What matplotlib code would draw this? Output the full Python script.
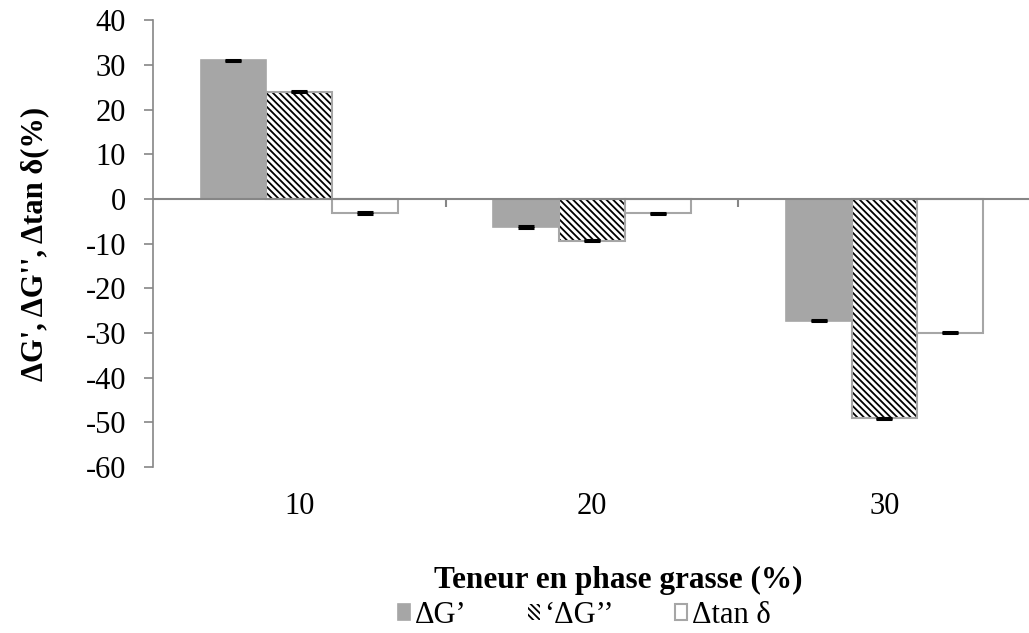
import numpy as np
import matplotlib.pyplot as plt

plt.rcParams['font.family'] = ['Liberation Serif', 'DejaVu Serif']
plt.rcParams['axes.unicode_minus'] = False
plt.rcParams['hatch.linewidth'] = 1.3

# ============ data ============
categories = ['10', '20', '30']
dG1 = [31.0, -6.3, -27.2]
dG2 = [24.0, -9.3, -49.1]
dtan = [-3.1, -3.2, -29.9]
err = [0.15, 0.15, 0.15]
labels = ['\u0394G\u2019', '\u2018\u0394G\u2019\u2019', '\u0394tan \u03b4']

gray = '#a6a6a6'
axis_gray = '#868686'
fs = 22

fig = plt.figure(figsize=(10.29, 6.33), dpi=100)
ax = fig.add_axes([0.1487, 0.262, 0.853, 0.706])

x = np.arange(len(categories))
w = 0.225

b1 = ax.bar(x - w, dG1, w, color=gray, edgecolor=gray, linewidth=1.2, label=labels[0])
b2 = ax.bar(x, dG2, w, color='white', edgecolor='black', hatch='\\\\\\\\\\',
            linewidth=0, label=labels[1])
ax.bar(x, dG2, w, color='none', edgecolor=gray, linewidth=1.5)
b3 = ax.bar(x + w, dtan, w, color='white', edgecolor=gray, linewidth=1.5, label=labels[2])

for off, vals in [(-w, dG1), (0, dG2), (w, dtan)]:
    ax.errorbar(x + off, vals, yerr=err, fmt='none', ecolor='black',
                capsize=6, capthick=2.2, elinewidth=1)

ax.axhline(0, color=axis_gray, linewidth=1.5, zorder=3)
ax.vlines([0.5, 1.5], -1.8, 0, color=axis_gray, linewidth=1.5, zorder=3)

ax.set_xlim(-0.5, 2.5)
ax.set_ylim(-60, 40)
ax.set_yticks(np.arange(-60, 41, 10))
ax.set_xticks(x)
ax.set_xticklabels(categories)

for s in ['top', 'right', 'bottom']:
    ax.spines[s].set_visible(False)
ax.spines['left'].set_color(axis_gray)
ax.spines['left'].set_linewidth(1.2)
ax.tick_params(axis='y', direction='out', length=6.5, color=axis_gray, width=1.2,
               labelsize=fs, pad=13)
ax.tick_params(axis='x', length=0, labelsize=fs, pad=18)

ax.set_ylabel('\u0394G\', \u0394G\'\', \u0394tan \u03b4(%)', fontsize=fs,
              fontweight='bold', labelpad=26)
ax.set_xlabel('Teneur en phase grasse (%)', fontsize=22.5, fontweight='bold')
ax.xaxis.set_label_coords(0.53, -0.22)

leg = fig.legend(handles=[b1, b2, b3], labels=labels, loc='center',
                 bbox_to_anchor=(0.568, 0.028), ncol=3, frameon=False,
                 fontsize=fs, handlelength=0.4, handleheight=0.4,
                 handletextpad=0.15, columnspacing=2.0)

fig.savefig('out.png', dpi=100)
